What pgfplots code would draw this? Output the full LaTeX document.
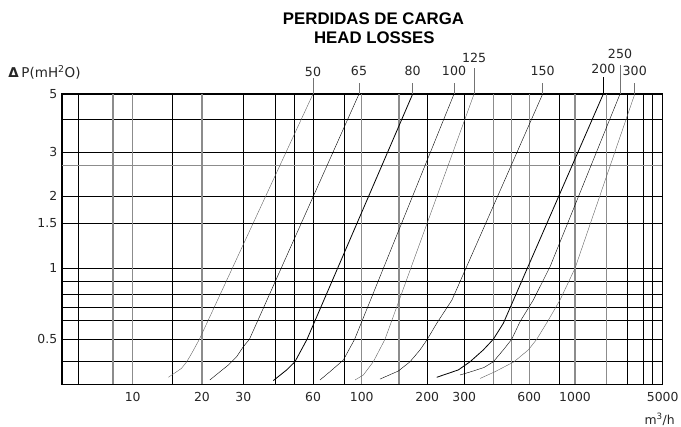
\documentclass[border=0pt]{standalone}
\usepackage{fontspec}
\usepackage{pgfplots}
\pgfplotsset{compat=1.18}
\setmainfont{DejaVu Sans}
\newfontfamily\titlefont{Liberation Sans}
% piecewise log-linear mapping of the hand drawn axes (value -> drawing position)
\newcommand\SGF[5]{+((#5)-(#4))*min(1,(ln(#1)-ln(#2))/(ln(#3)-ln(#2)))}
\newcommand\SG[5]{+((#5)-(#4))*max(0,min(1,(ln(#1)-ln(#2))/(ln(#3)-ln(#2))))}
\newcommand\SGL[5]{+((#5)-(#4))*max(0,(ln(#1)-ln(#2))/(ln(#3)-ln(#2)))}
\newcommand\XMAP[1]{62\SGF{#1}{5}{6}{62}{78.3}\SG{#1}{6}{8}{78.3}{113}\SG{#1}{8}{10}{113}{132.7}%
\SG{#1}{10}{15}{132.7}{172.3}\SG{#1}{15}{20}{172.3}{202}\SG{#1}{20}{30}{202}{243.3}%
\SG{#1}{30}{40}{243.3}{275.3}\SG{#1}{40}{50}{275.3}{294.3}\SG{#1}{50}{60}{294.3}{313}%
\SG{#1}{60}{80}{313}{344.3}\SG{#1}{80}{100}{344.3}{361.7}\SG{#1}{100}{150}{361.7}{399}%
\SG{#1}{150}{200}{399}{427.3}\SG{#1}{200}{300}{427.3}{464.3}\SG{#1}{300}{400}{464.3}{493.7}%
\SG{#1}{400}{500}{493.7}{511.7}\SG{#1}{500}{600}{511.7}{529.3}\SG{#1}{600}{800}{529.3}{559.3}%
\SG{#1}{800}{1000}{559.3}{575}\SG{#1}{1000}{2000}{575}{606.7}\SG{#1}{2000}{3000}{606.7}{627.3}%
\SG{#1}{3000}{4000}{627.3}{643.3}\SG{#1}{4000}{4500}{643.3}{652.7}\SGL{#1}{4500}{5000}{652.7}{662.7}}
\newcommand\YMAP[1]{-384.3\SGF{#1}{0.32}{0.4}{-384.3}{-361.8}\SG{#1}{0.4}{0.5}{-361.8}{-339.3}%
\SG{#1}{0.5}{0.6}{-339.3}{-320.8}\SG{#1}{0.6}{0.7}{-320.8}{-307.8}\SG{#1}{0.7}{0.8}{-307.8}{-294.5}%
\SG{#1}{0.8}{0.9}{-294.5}{-281.2}\SG{#1}{0.9}{1}{-281.2}{-268.3}\SG{#1}{1}{1.5}{-268.3}{-223.3}%
\SG{#1}{1.5}{2}{-223.3}{-196.3}\SG{#1}{2}{2.7}{-196.3}{-165.7}\SG{#1}{2.7}{3}{-165.7}{-152.3}%
\SG{#1}{3}{4}{-152.3}{-119.3}\SGL{#1}{4}{5}{-119.3}{-94}}
\newcommand\dotrafo[2]{% #1 = map macro, #2 = input (plain or pgf float)
  \pgfmathfloatparsenumber{#2}%
  \pgfmathfloattosci{\pgfmathresult}%
  \edef\trafoin{\fpeval{max(\pgfmathresult,0.001)}}%
  \edef\trafoout{\fpeval{#1{\trafoin}}}%
  \pgfmathfloatparsenumber{\trafoout}}
\begin{document}
\begin{tikzpicture}
\useasboundingbox (0,0) rectangle (681bp,427bp);
\begin{axis}[
  at={(62bp,42.7bp)}, anchor=south west,
  scale only axis, width=600.7bp, height=290.3bp,
  x coord trafo/.code={\dotrafo\XMAP{#1}},
  y coord trafo/.code={\dotrafo\YMAP{#1}},
  xmin=5, xmax=5000, ymin=0.32, ymax=5,
  clip=false,
  axis line style={line width=1.5bp},
  major tick length=0pt,
  grid=major,
  major grid style={black, line width=0.8bp},
  xtick={6,8,10,15,20,30,40,50,60,80,100,150,200,300,400,500,600,800,1000,2000,3000,4000,4500},
  xticklabels={,,10,,20,30,,,60,,100,,200,300,,,600,,1000,,,,},
  ytick={0.4,0.5,0.6,0.7,0.8,0.9,1,1.5,2,2.7,3,4,5},
  yticklabels={,0.5,,,,,1,1.5,2,,3,,5},
  xticklabel style={anchor=north, inner sep=0pt, yshift=-7.4bp, font=\fontsize{12.4bp}{14bp}\selectfont, text=black!85},
  yticklabel style={anchor=east, inner sep=0pt, xshift=-4.6bp, font=\fontsize{12.4bp}{14bp}\selectfont, text=black!85},
  cycle list={{black!62, solid, line width=0.8bp, mark=none}},
]
% lighter grid lines of the reference, drawn over the black ones
\foreach \g in {8,10,20,100,150,400,500,600,1000,2000}{
  \edef\tmp{\noexpand\draw[black!45, line width=1.1bp] (axis cs:\g,0.3215) -- (axis cs:\g,4.98);}\tmp
}
\draw[black!45, line width=1.1bp] (axis cs:5.02,2.7) -- (axis cs:4980,2.7);
% 50
\addplot coordinates {(60,5) (19.5,0.5) (18.1,0.435) (17.25,0.4) (16.4,0.375) (15.65,0.3626) (14.4,0.343)};
% 65
\addplot coordinates {(96.6,5) (31.7,0.5) (30,0.4646) (28.1,0.4207) (25.9,0.3875) (21.6,0.334)};
% 80
\addplot coordinates {(172.4,5) (56.6,0.5) (50.3,0.4) (45.7,0.369) (39.3,0.332)};
% 100
\addplot coordinates {(268,5) (91.3,0.5) (79.3,0.407) (70.1,0.3626) (64,0.334)};
% 125
\addplot coordinates {(330,5) (128.8,0.5) (113.4,0.4) (101.8,0.351) (91.8,0.334)};
% 150
\addplot coordinates {(682,5) (262,0.757) (221.7,0.585) (200,0.5) (185.7,0.45) (167.7,0.4) (148.9,0.365) (122,0.337)};
% 200
\addplot coordinates {(1857,5) (450.5,0.585) (398.4,0.5) (361.3,0.45) (317.2,0.4) (280.9,0.369) (221.7,0.343)};
% 250
\addplot coordinates {(2599,5) (732,1.0145) (623.5,0.757) (545,0.595) (500,0.5) (450.5,0.45) (398.4,0.4) (363.8,0.378) (317.2,0.3615) (286.2,0.351)};
% 300
\addplot coordinates {(3430,5) (1000,1) (808,0.757) (717.8,0.6) (644.1,0.5) (593.8,0.45) (512,0.4) (406.5,0.3626) (349.8,0.339)};
% leader lines and diameter labels
\begin{scope}[every node/.style={anchor=base, inner sep=0pt, font=\fontsize{12.6bp}{14bp}\selectfont, text=black!85}]
\draw[black!55, line width=0.8bp] (axis cs:60,5) -- ([yshift=15.7bp]axis cs:60,5);
\node at ([yshift=17.3bp]axis cs:60,5) {50};
\draw[black!55, line width=0.8bp] (axis cs:96.6,5) -- ([yshift=10.7bp]axis cs:96.6,5);
\node at ([yshift=18bp]axis cs:96.6,5) {65};
\draw[black!55, line width=0.8bp] (axis cs:172.4,5) -- ([yshift=10.7bp]axis cs:172.4,5);
\node at ([yshift=18bp]axis cs:172.4,5) {80};
\draw[black!55, line width=0.8bp] (axis cs:268,5) -- ([yshift=10.7bp]axis cs:268,5);
\node at ([yshift=18bp]axis cs:268,5) {100};
\draw[black!55, line width=0.8bp] (axis cs:330,5) -- ([yshift=26.3bp]axis cs:330,5);
\node at ([yshift=31.7bp]axis cs:330,5) {125};
\draw[black!55, line width=0.8bp] (axis cs:682,5) -- ([yshift=10.7bp]axis cs:682,5);
\node at ([yshift=18.3bp]axis cs:682,5) {150};
\draw[black, line width=0.9bp] (axis cs:1857,5) -- ([yshift=16.7bp]axis cs:1857,5);
\node at ([yshift=20bp]axis cs:1857,5) {200};
\draw[black!55, line width=0.8bp] (axis cs:2599,5) -- ([yshift=28.7bp]axis cs:2599,5);
\node at ([yshift=35.7bp]axis cs:2599,5) {250};
\draw[black!55, line width=0.8bp] (axis cs:3430,5) -- ([yshift=10.7bp]axis cs:3430,5);
\node at ([yshift=18bp]axis cs:3430,5) {300};
\node[anchor=north, yshift=-7.4bp, font=\fontsize{12.4bp}{14bp}\selectfont] at (axis cs:5000,0.32) {5000};
\end{scope}
\end{axis}
% titles and axis names
\node[anchor=base, inner sep=0pt, font=\titlefont\bfseries\fontsize{16.8bp}{19bp}\selectfont] at (373.5bp,402.7bp) {PERDIDAS DE CARGA};
\node[anchor=base, inner sep=0pt, font=\titlefont\bfseries\fontsize{16.8bp}{19bp}\selectfont] at (374.3bp,383.7bp) {HEAD LOSSES};
\node[anchor=base west, inner sep=0pt, font=\fontsize{13.5bp}{15bp}\selectfont, text=black!85] at (8.3bp,349.7bp) {{\bfseries Δ}\hspace{2.5bp}P(mH\textsuperscript{2}O)};
\node[anchor=center, inner sep=0pt, font=\fontsize{12.4bp}{14bp}\selectfont, text=black!85] at (659.7bp,7.8bp) {m\textsuperscript{3}/h};
\end{tikzpicture}
\end{document}
